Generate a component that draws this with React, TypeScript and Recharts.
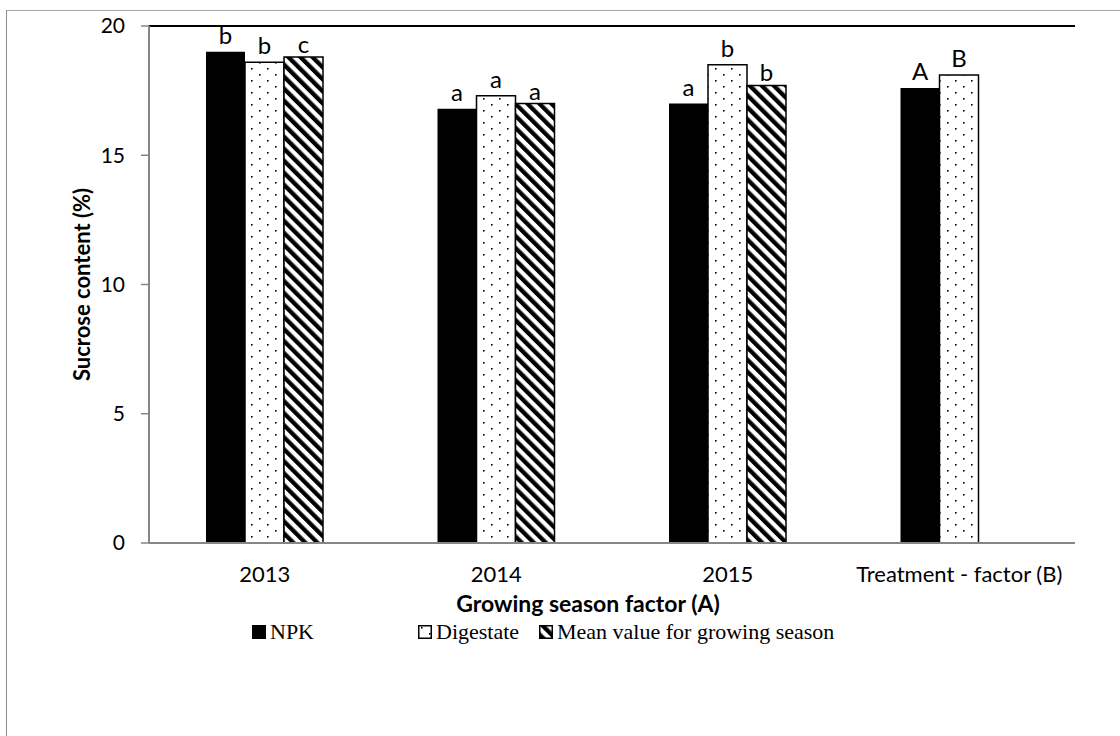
import {
  Bar,
  BarChart,
  LabelList,
  Legend,
  ReferenceLine,
  XAxis,
  YAxis,
} from "recharts";

// Growing seasons plus the treatment mean
const categories = ["2013", "2014", "2015", "Treatment - factor (B)"];

// Sucrose content (%)
const npk = [19.0, 16.8, 17.0, 17.6];
const digestate = [18.6, 17.3, 18.5, 18.1];
const seasonMean = [18.8, 17.0, 17.7, null];

// significance letters above the bars
const npkLetters = ["b", "a", "a", "A"];
const digestateLetters = ["b", "a", "b", "B"];
const meanLetters = ["c", "a", "b", ""];

const yTicks = [0, 5, 10, 15, 20];

const legendItems = [
  { label: "NPK", fill: "#000" },
  { label: "Digestate", fill: "url(#dots)" },
  { label: "Mean value for growing season", fill: "url(#stripes)" },
];
const legendLeft = [252, 418, 539];

const data = categories.map((name, i) => ({
  name,
  npk: npk[i],
  digestate: digestate[i],
  mean: seasonMean[i],
  npkLetter: npkLetters[i],
  digestateLetter: digestateLetters[i],
  meanLetter: meanLetters[i],
}));

const sans = "Lato, 'Open Sans', sans-serif";
const axisGray = "#868686";

function renderLegend() {
  return (
    <div
      style={{
        position: "relative",
        height: 30,
        fontFamily: "'Liberation Serif', serif",
        fontSize: 22,
        color: "#000",
      }}
    >
      {legendItems.map((item, i) => (
        <div
          key={item.label}
          style={{
            position: "absolute",
            left: legendLeft[i],
            top: 0,
            height: 30,
            display: "flex",
            alignItems: "center",
            whiteSpace: "nowrap",
          }}
        >
          <svg width={14} height={14}>
            <rect
              x={0.75}
              y={0.75}
              width={12.5}
              height={12.5}
              fill={item.fill}
              stroke="#000"
              strokeWidth={1.5}
            />
          </svg>
          <span style={{ marginLeft: 4 }}>{item.label}</span>
        </div>
      ))}
    </div>
  );
}

export default function App() {
  return (
    <div style={{ position: "absolute", left: 0, top: 0, width: 1120, height: 736, background: "#fff" }}>
      {/* outer chart frame */}
      <div
        style={{
          position: "absolute",
          left: 6,
          top: 10,
          width: 1114,
          height: 726,
          boxSizing: "border-box",
          borderTop: "1.5px solid #a6a6a6",
          borderLeft: "1.5px solid #8c8c8c",
        }}
      />
      <div style={{ position: "absolute", left: 0, top: 0 }}>
        <BarChart
          width={1120}
          height={736}
          data={data}
          margin={{ top: 26, right: 45, bottom: 123, left: 69 }}
          barGap={0}
          barSize={39}
        >
          <defs>
            <pattern id="dots" width="16" height="12" patternUnits="userSpaceOnUse">
              <rect width="16" height="12" fill="#fff" />
              <rect x="3" y="2" width="1.6" height="1.6" fill="#000" />
              <rect x="11" y="8" width="1.6" height="1.6" fill="#000" />
            </pattern>
            <pattern
              id="stripes"
              width="8.5"
              height="8.5"
              patternUnits="userSpaceOnUse"
              patternTransform="rotate(-45)"
            >
              <rect width="8.5" height="8.5" fill="#fff" />
              <rect width="4.3" height="8.5" fill="#000" />
            </pattern>
          </defs>
          <XAxis
            dataKey="name"
            interval={0}
            tickLine={false}
            tickSize={0}
            tickMargin={23}
            axisLine={{ stroke: axisGray, strokeWidth: 2 }}
            tick={{ fill: "#000", fontSize: 22, fontFamily: sans }}
            height={70}
            label={{
              value: "Growing season factor (A)",
              position: "insideBottom",
              offset: 1,
              dx: -24,
              fill: "#000",
              fontSize: 23,
              fontWeight: "bold",
              fontFamily: sans,
            }}
          />
          <YAxis
            domain={[0, 20]}
            ticks={yTicks}
            width={80}
            tickSize={8}
            tickMargin={16}
            axisLine={{ stroke: axisGray, strokeWidth: 2 }}
            tickLine={{ stroke: axisGray, strokeWidth: 1.5 }}
            tick={{ fill: "#000", fontSize: 21, fontFamily: sans }}
            label={{
              value: "Sucrose content (%)",
              angle: -90,
              position: "insideLeft",
              offset: 13,
              fill: "#000",
              fontSize: 22,
              fontWeight: "bold",
              fontFamily: sans,
              style: { textAnchor: "middle" },
            }}
          />
          {/* right-hand frame of the plot area */}
          <YAxis
            yAxisId="frame"
            orientation="right"
            domain={[0, 20]}
            width={0}
            tick={false}
            tickLine={false}
            axisLine={{ stroke: "#000", strokeWidth: 1.5 }}
          />
          <ReferenceLine y={20} stroke="#000" strokeWidth={2} />
          <Legend
            layout="horizontal"
            verticalAlign="middle"
            align="center"
            content={renderLegend}
            wrapperStyle={{ top: 617, left: 0, width: 1120, height: 30 }}
          />
          <Bar dataKey="npk" fill="#000" isAnimationActive={false}>
            <LabelList
              dataKey="npkLetter"
              position="top"
              offset={8}
              fill="#000"
              fontSize={24}
              fontFamily={sans}
            />
          </Bar>
          <Bar
            dataKey="digestate"
            fill="url(#dots)"
            stroke="#000"
            strokeWidth={1.5}
            isAnimationActive={false}
          >
            <LabelList
              dataKey="digestateLetter"
              position="top"
              offset={8}
              fill="#000"
              fontSize={24}
              fontFamily={sans}
            />
          </Bar>
          <Bar
            dataKey="mean"
            fill="url(#stripes)"
            stroke="#000"
            strokeWidth={1.5}
            isAnimationActive={false}
          >
            <LabelList
              dataKey="meanLetter"
              position="top"
              offset={4}
              fill="#000"
              fontSize={24}
              fontFamily={sans}
            />
          </Bar>
        </BarChart>
      </div>
    </div>
  );
}
